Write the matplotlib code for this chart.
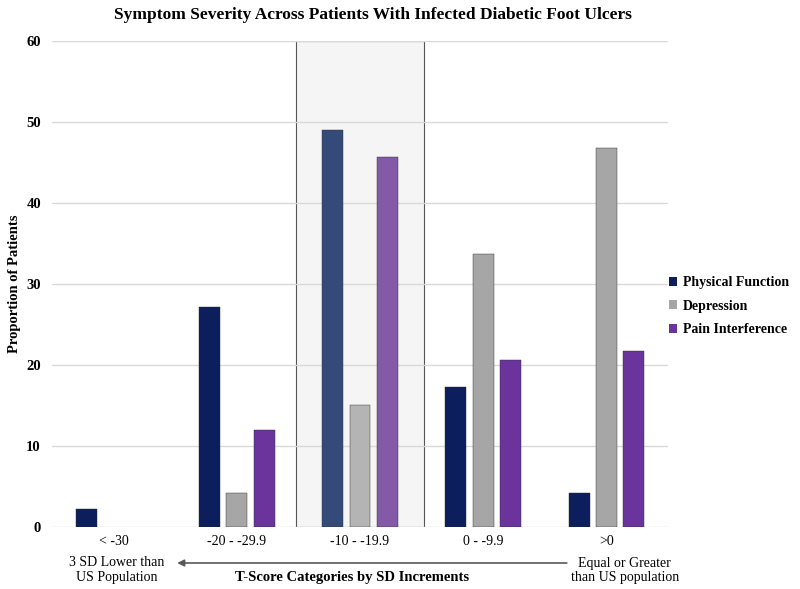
import numpy as np
import matplotlib
matplotlib.use("Agg")
import matplotlib.pyplot as plt
from matplotlib.patches import Rectangle, Patch

plt.rcParams['font.family'] = ['Liberation Serif', 'DejaVu Serif']

categories = ['< -30', '-20 - -29.9', '-10 - -19.9', '0 - -9.9', '>0']
series_names = ['Physical Function', 'Depression', 'Pain Interference']
physical_function = [2.2, 27.2, 49.0, 17.3, 4.2]
depression = [0.0, 4.2, 15.1, 33.7, 46.8]
pain_interference = [0.0, 12.0, 45.7, 20.7, 21.8]

colors = ['#0c1f5c', '#a6a6a6', '#6a349c']
highlight_colors = ['#344b7a', '#b4b4b4', '#8459a8']
highlight_idx = 2

fig = plt.figure(figsize=(8, 5.89), dpi=100)
ax = fig.add_axes([0.065, 0.105, 0.77, 0.825])

x = np.arange(len(categories))
width = 0.17
step = 0.222
for i, (vals, col, hcol) in enumerate(zip([physical_function, depression, pain_interference],
                                           colors, highlight_colors)):
    cols = [hcol if k == highlight_idx else col for k in range(len(categories))]
    lws = [0.3 if v > 0 else 0 for v in vals]
    ax.bar(x + (i - 1) * step, vals, width, color=cols, edgecolor='#2b2b2b',
           linewidth=lws, zorder=2)

# shaded box around the middle group
ax.add_patch(Rectangle((highlight_idx - 0.52, 0), 1.04, 60, facecolor='#f5f5f5',
                       edgecolor='#555555', linewidth=0.8, zorder=0.1))

ax.set_xlim(-0.5, 4.5)
ax.set_ylim(0, 60)
ax.set_yticks(range(0, 61, 10))
ax.set_xticks(x)
ax.set_xticklabels(categories, fontsize=10)
ax.tick_params(axis='y', labelsize=10.5, length=0, pad=8)
ax.tick_params(axis='x', length=0, pad=6)
for lab in ax.get_yticklabels():
    lab.set_fontweight('bold')
ax.yaxis.grid(True, color='#d9d9d9', linewidth=1)
ax.set_axisbelow(True)
for s in ax.spines.values():
    s.set_visible(False)

ax.set_ylabel('Proportion of Patients', fontsize=10.5, fontweight='bold', labelpad=4)
fig.text(0.466, 0.975, 'Symptom Severity Across Patients With Infected Diabetic Foot Ulcers',
         ha='center', va='center', fontsize=12.5, fontweight='bold')

# notes under axis
fig.text(0.146, 1 - 563 / 589, '3 SD Lower than', ha='center', va='center', fontsize=10)
fig.text(0.146, 1 - 578 / 589, 'US Population', ha='center', va='center', fontsize=10)
fig.text(0.781, 1 - 563 / 589, 'Equal or Greater', ha='center', va='center', fontsize=10)
fig.text(0.781, 1 - 578 / 589, 'than US population', ha='center', va='center', fontsize=10)
fig.text(0.44, 1 - 578 / 589, 'T-Score Categories by SD Increments', ha='center', va='center',
         fontsize=10.5, fontweight='bold')
ax.annotate('', xy=(0.218, 1 - 563 / 589), xytext=(0.712, 1 - 563 / 589),
            xycoords='figure fraction', textcoords='figure fraction',
            arrowprops=dict(arrowstyle='-|>', color='#595959', lw=1.2, mutation_scale=10))

handles = [Patch(facecolor=c, edgecolor='none') for c in colors]
leg = fig.legend(handles, series_names, loc='center left', bbox_to_anchor=(0.836, 0.48),
                 frameon=False, handlelength=0.6, handleheight=0.6, handletextpad=0.4,
                 labelspacing=0.75, borderpad=0, borderaxespad=0,
                 prop={'weight': 'bold', 'size': 10})

fig.savefig('out.png', dpi=100)
